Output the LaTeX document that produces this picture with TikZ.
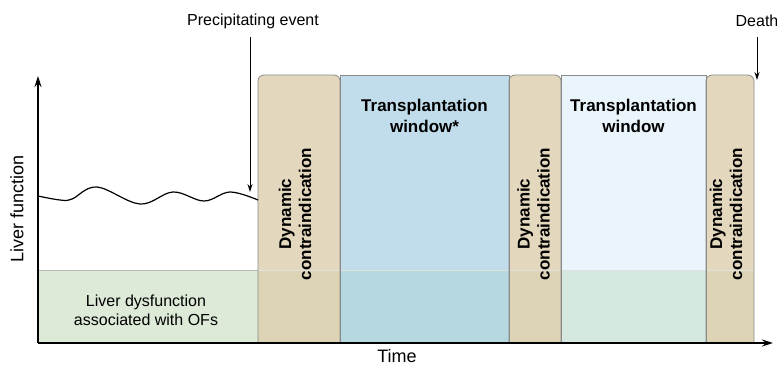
\documentclass[tikz,border=0pt]{standalone}
\usepackage{fontspec}
\setmainfont{Liberation Sans}
\usetikzlibrary{arrows.meta}
\definecolor{tanc}{HTML}{E3D7BD}
\definecolor{tanb}{HTML}{DDD3B5}
\definecolor{bluec}{HTML}{C1DCEB}
\definecolor{blueb}{HTML}{B6D8E1}
\definecolor{lbluec}{HTML}{EAF5FB}
\definecolor{lblueb}{HTML}{D4E8E0}
\definecolor{greenb}{HTML}{DDEAD7}
\definecolor{edgec}{HTML}{8A8A8A}
\tikzset{
  boxedge/.style={draw=edgec, line width=0.8pt},
  dyntext/.style={rotate=90, align=center, font=\fontsize{17}{20}\selectfont\bfseries, inner sep=0pt},
  wintext/.style={align=center, font=\fontsize{17}{21}\selectfont\bfseries, inner sep=0pt, anchor=north},
  lbl/.style={font=\fontsize{16}{19}\selectfont, inner sep=0pt},
  axlbl/.style={font=\fontsize{18}{21}\selectfont, inner sep=0pt},
  axis/.style={line width=1.3pt, -{Stealth[length=11pt,width=7pt]}},
  evarrow/.style={line width=0.9pt, -{Stealth[length=8pt,width=5pt]}}
}
\newcommand\mydynpath[2]{(#1,343) -- (#1,81) arc[start angle=180,end angle=270,radius=6] -- ({#2-6},75) arc[start angle=270,end angle=360,radius=6] -- (#2,343) -- cycle}
\begin{document}
\begin{tikzpicture}[x=1pt,y=-1pt]
\useasboundingbox (0,0) rectangle (777,370);
% green band (before first box)
\fill[greenb] (38,270) rectangle (258,343);
% transplantation window*
\fill[bluec] (340,75) rectangle (509,270);
\fill[blueb] (340,270) rectangle (509,343);
% transplantation window
\fill[lbluec] (561,75) rectangle (706,270);
\fill[lblueb] (561,270) rectangle (706,343);
% dynamic contraindication boxes
\foreach \a/\b in {258/340, 509/561, 706/754}{
  \fill[tanc] \mydynpath{\a}{\b};
  \fill[tanb] (\a,270) rectangle (\b,343);
}
% band line
\draw[black!28, line width=0.7pt] (38,270) -- (258,270);
\draw[black!12, line width=0.5pt] (258,270) -- (754,270);
% borders
\draw[boxedge] (340,75) rectangle (509,343);
\draw[boxedge] (561,75) rectangle (706,343);
\foreach \a/\b in {258/340, 509/561, 706/754}{
  \draw[boxedge] \mydynpath{\a}{\b};
}
% texts
\node[dyntext] (d1) at (295,214) {Dynamic\\contraindication};
\node[dyntext] (d2) at (533.5,214) {Dynamic\\contraindication};
\node[dyntext] (d3) at (726,214) {Dynamic\\contraindication};
\node[wintext] (w1) at (424.5,99) {Transplantation\\window*};
\node[wintext] (w2) at (633.5,99) {Transplantation\\window};
\node[lbl, align=center, font=\fontsize{16}{19}\selectfont] (ld) at (146,310) {Liver dysfunction\\associated with OFs};
% wavy line
\draw[line width=1.2pt, line join=round] plot[smooth, tension=0.6] coordinates {(38,196) (60,200) (72,199) (97,187) (140,204) (173,192) (204,201) (230,192) (258,200)};
% axes
\coordinate (orig) at (38,343);
\coordinate (ytop) at (38,76);
\coordinate (xend) at (773,343);
\draw[axis] (orig) -- (ytop);
\draw[axis] (orig) -- (xend);
\node[axlbl, rotate=90] (yl) at (17,209) {Liver function};
\node[axlbl] (xl) at (397,356) {Time};
% events
\node[lbl] (pe) at (253,21) {Precipitating event};
\coordinate (pet) at (250,192);
\draw[evarrow] (250,37) -- (pet);
\node[lbl] (de) at (757,21) {Death};
\coordinate (det) at (757,80);
\draw[evarrow] (757,37) -- (det);
\end{tikzpicture}
\end{document}
